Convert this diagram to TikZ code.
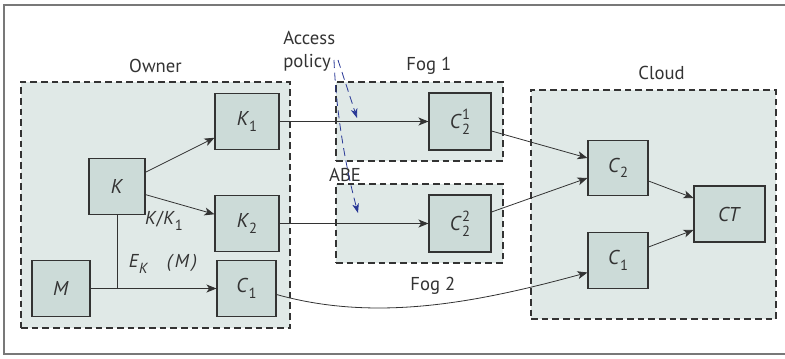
\documentclass[tikz,border=0pt]{standalone}
\usepackage{fontspec}
\setmainfont{PT Sans}
\usepackage{xcolor}
\usepackage{tikz}
\usetikzlibrary{calc, arrows.meta, positioning}
\definecolor{FogGroupFill}{RGB}{224, 233, 231}
\definecolor{FogBoxFill}{RGB}{204, 219, 216}
\definecolor{FogInk}{RGB}{51, 51, 51}
\definecolor{FogBlue}{RGB}{40, 55, 150}
\definecolor{FogFrame}{RGB}{120, 120, 120}
\newcommand{\sbs}[1]{\raisebox{-4pt}{\fontsize{11}{11}\selectfont #1}}
\newcommand{\supsub}[2]{\rlap{\raisebox{6.5pt}{\fontsize{11}{11}\selectfont #1}}\raisebox{-4.5pt}{\fontsize{11}{11}\selectfont #2}}

\begin{document}
\begin{tikzpicture}[
    x=0.75pt, y=-0.75pt,
    group/.style={rectangle, draw=FogInk, line width=0.8pt, dash pattern=on 5pt off 3pt, fill=FogGroupFill, inner sep=0pt},
    keybox/.style={rectangle, draw=FogInk, line width=0.8pt, fill=FogBoxFill, minimum height=41.5pt, inner sep=0pt, font=\fontsize{15}{17}\selectfont, text=FogInk},
    lbl/.style={inner sep=0pt, font=\fontsize{14}{17}\selectfont, text=FogInk},
    arrow/.style={-{Stealth[length=7.5pt, width=6pt, inset=2pt]}, semithick, color=FogInk},
    policyarrow/.style={-{Stealth[length=7pt, width=5pt, inset=2pt]}, semithick, color=FogBlue, dash pattern=on 6pt off 3.5pt}
  ]
    \useasboundingbox (0,0) rectangle (785,358);
    \draw[FogFrame, line width=0.8pt] (787,5) -- (4,5) -- (4,354) -- (787,354);

    % groups
    \node[group, minimum width=201.75pt, minimum height=184.5pt] (owner) at (155.5,205) {};
    \node[group, minimum width=125.25pt, minimum height=59.25pt] (fog1) at (419.5,121.5) {};
    \node[group, minimum width=125.25pt, minimum height=59.25pt] (fog2) at (419.5,223.5) {};
    \node[group, minimum width=183.75pt, minimum height=171.75pt] (cloud) at (653.5,204.5) {};

    \node[lbl, above=6pt of owner] {Owner};
    \node[lbl, above=5pt of fog1, xshift=7pt] {Fog 1};
    \node[lbl, below=10pt of fog2, xshift=10pt] {Fog 2};
    \node[lbl, above=7pt of cloud, xshift=6pt] {Cloud};

    % boxes
    \node[keybox, minimum width=48pt] (k1) at (247,121.5) {\textit{K}\sbs{1}};
    \node[keybox, minimum width=42pt] (k) at (117,186.5) {\textit{K}};
    \node[keybox, minimum width=48pt] (k2) at (247,223.5) {\textit{K}\sbs{2}};
    \node[keybox, minimum width=43.5pt] (m) at (61,288.5) {\textit{M}};
    \node[keybox, minimum width=44.25pt] (c1own) at (246.5,288.5) {\textit{C}\sbs{1}};
    \node[keybox, minimum width=46.5pt, minimum height=42.75pt] (c21) at (460,121.5) {\textit{C}\supsub{1}{2}};
    \node[keybox, minimum width=46.5pt, minimum height=42.75pt] (c22) at (460,223.5) {\textit{C}\supsub{2}{2}};
    \node[keybox, minimum width=45pt] (c2) at (618,168) {\textit{C}\sbs{2}};
    \node[keybox, minimum width=45pt] (c1) at (618,260.5) {\textit{C}\sbs{1}};
    \node[keybox, minimum width=53.25pt, minimum height=42pt] (ct) at (729.5,214) {\textit{CT}};

    \node[lbl] (kk1) at (164,221) {\textit{K}/\textit{K}\sbs{1}};
    \node[lbl] (ekm) at (163,264) {\textit{E}\sbs{\textit{K}}\hspace{14pt}\textit{(\,M\,)}};
    \node[lbl, align=left, anchor=west] (policy) at (283,51) {Access\\policy};
    \node[lbl] (abe) at (345,175) {ABE};

    \coordinate (join) at (k.south |- m.east);
    \coordinate (polA) at (334,60);
    \coordinate (polB) at (338,60);
    \coordinate (abetip) at (358,213);
    \coordinate (fogtip) at (357,118);

    \draw[arrow] (k) -- (k1);
    \draw[arrow] (k) -- (k2);
    \draw[semithick, FogInk] (k) -- (join);
    \draw[arrow] (m) -- (c1own);
    \draw[arrow] (k1) -- (c21);
    \draw[arrow] (k2) -- (c22);
    \draw[arrow] ($(c21.east)+(0,9.5)$) -- ($(c2.west)+(0,-10)$);
    \draw[arrow] ($(c22.east)+(0,-11.5)$) -- ($(c2.west)+(0,10)$);
    \draw[arrow] ($(c2.east)+(0,13)$) -- ($(ct.west)+(0,-16)$);
    \draw[arrow] ($(c1.east)+(0,-13.5)$) -- ($(ct.west)+(0,16)$);
    \draw[arrow] ($(c1own.east)+(0,6)$) .. controls +(100,28) and +(-110,30) .. ($(c1.west)+(0,12)$);

    \draw[policyarrow] (polA) .. controls (336,110) and (345,165) .. (abetip);
    \draw[policyarrow] (polB) -- (fogtip);
  \end{tikzpicture}
\end{document}
